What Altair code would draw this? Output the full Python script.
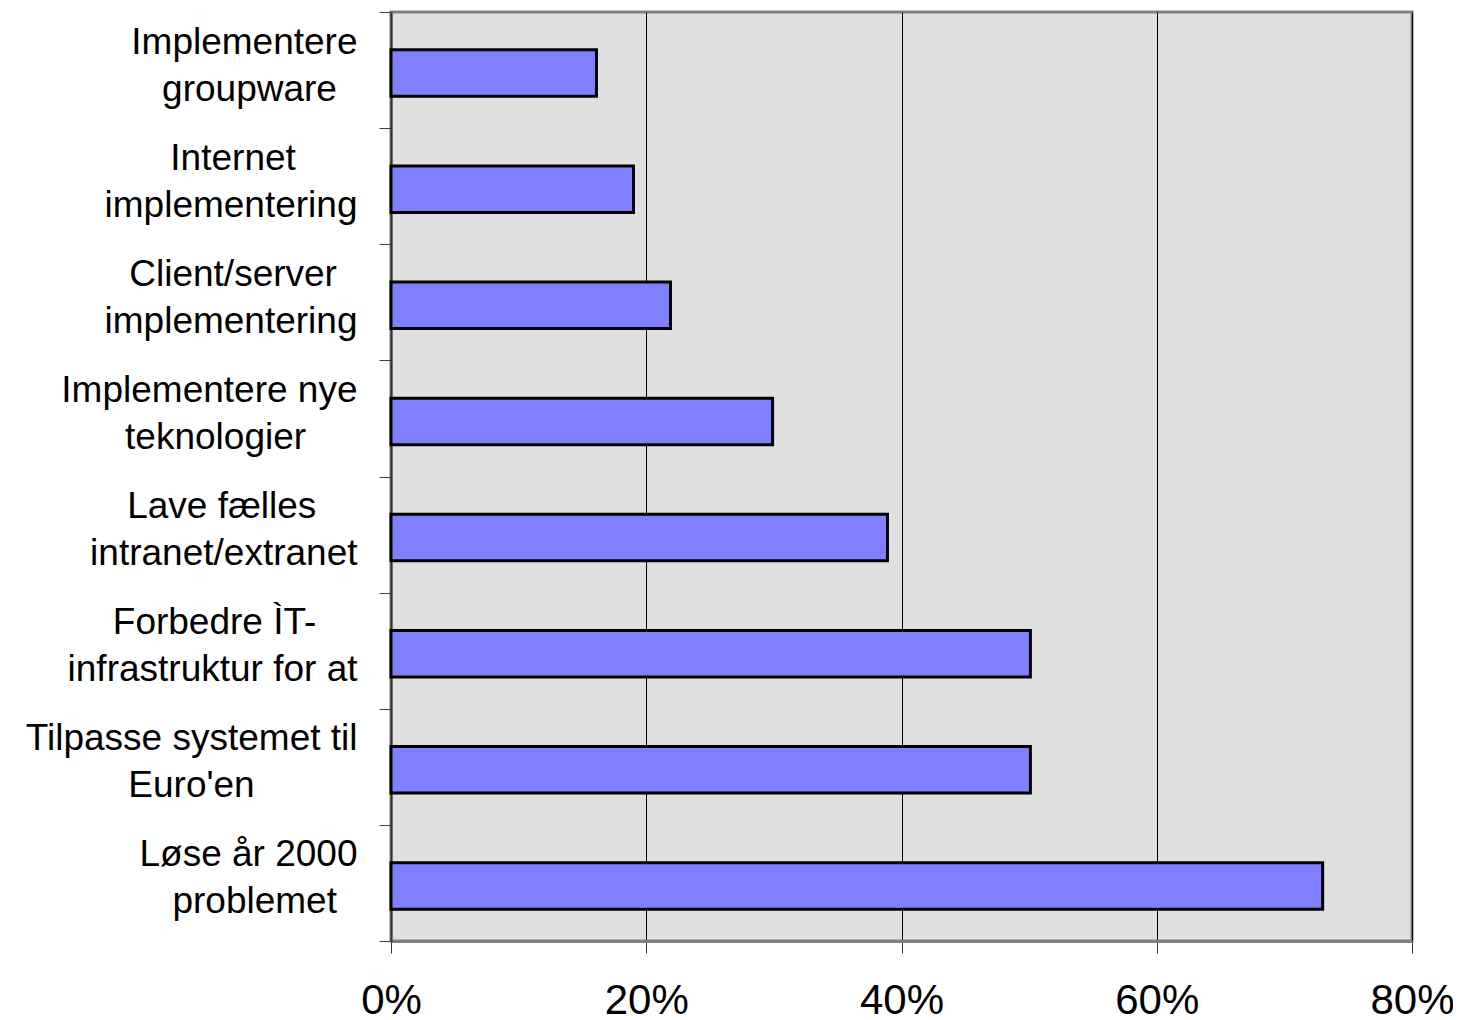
import altair as alt
import pandas as pd

NB = "\u00a0"   # non-breaking space, centres the shorter line of each label
ZW = "\u200b"   # zero-width space so that the padding is not trimmed

def pad(text, n):
    return text + NB * n + ZW if n else text

line1 = [
    "Implementere",
    pad("Internet", 6),
    pad("Client/server", 2),
    "Implementere nye",
    pad("Lave fælles", 4),
    pad("Forbedre ÌT-", 4),
    "Tilpasse systemet til",
    "Løse år 2000",
]
line2 = [
    pad("groupware", 2),
    "implementering",
    "implementering",
    pad("teknologier", 5),
    "intranet/extranet",
    "infrastruktur for at",
    pad("Euro'en", 10),
    pad("problemet", 2),
]
values = [0.161, 0.190, 0.219, 0.299, 0.389, 0.501, 0.501, 0.730]
tick_values = [0, 0.2, 0.4, 0.6, 0.8]

labels = [a + "|" + b for a, b in zip(line1, line2)]
df = pd.DataFrame({"label": labels, "value": values})

FONT = "Liberation Sans"

chart = (
    alt.Chart(df)
    .mark_bar(
        color="#8080FF",
        stroke="#000000",
        strokeWidth=3,
        height=alt.RelativeBandSize(0.4),
        yOffset=3,
    )
    .encode(
        x=alt.X(
            "value:Q",
            scale=alt.Scale(domain=[0, 0.8], nice=False),
            axis=alt.Axis(
                values=tick_values,
                format=".0%",
                title=None,
                labelFont=FONT,
                labelFontSize=42,
                labelColor="#000000",
                labelPadding=27,
                labelFlush=False,
                tickSize=12,
                tickColor="#333333",
                tickWidth=1,
                domainColor="#808080",
                domainWidth=3,
                grid=True,
                gridColor="#000000",
                gridWidth=1,
                gridOpacity=1,
            ),
        ),
        y=alt.Y(
            "label:N",
            sort=labels,
            scale=alt.Scale(paddingInner=0, paddingOuter=0),
            axis=alt.Axis(
                title=None,
                labelExpr="split(datum.label, '|')",
                labelFont=FONT,
                labelFontSize=37,
                labelLineHeight=47,
                labelAlign="right",
                labelBaseline="middle",
                labelColor="#000000",
                labelLimit=600,
                labelPadding=22,
                labelOffset=-28,
                labelOverlap=False,
                labelBound=False,
                tickSize=12,
                tickBand="extent",
                tickColor="#444444",
                tickWidth=1,
                domainColor="#333333",
                domainWidth=2,
                grid=False,
            ),
        ),
    )
    .properties(
        width=1021,
        height=929,
        autosize="none",
        padding={"left": 383, "top": 4, "right": 41, "bottom": 79},
    )
    .configure_view(fill="#E0E0E0", stroke="#808080", strokeWidth=3)
)

chart.save("out.html", embed_options={"renderer": "svg", "actions": False})
